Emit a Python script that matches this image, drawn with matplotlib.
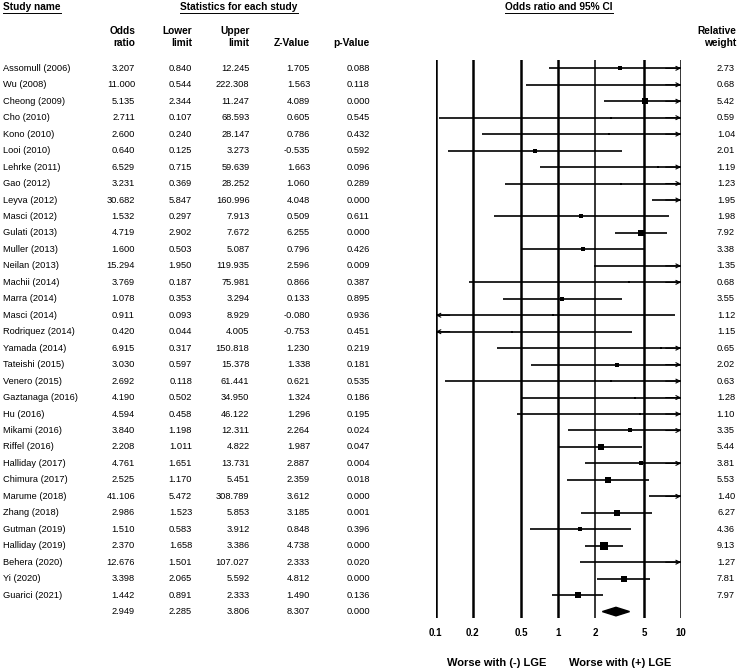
import numpy as np
import matplotlib
matplotlib.use("Agg")
import matplotlib.pyplot as plt
from matplotlib.transforms import blended_transform_factory
from matplotlib.patches import Polygon

plt.rcParams['font.family'] = ['Liberation Sans', 'DejaVu Sans']

# ---- data ----
studies = ["Assomull (2006)", "Wu (2008)", "Cheong (2009)", "Cho (2010)", "Kono (2010)",
           "Looi (2010)", "Lehrke (2011)", "Gao (2012)", "Leyva (2012)", "Masci (2012)",
           "Gulati (2013)", "Muller (2013)", "Neilan (2013)", "Machii (2014)", "Marra (2014)",
           "Masci (2014)", "Rodriquez (2014)", "Yamada (2014)", "Tateishi (2015)", "Venero (2015)",
           "Gaztanaga (2016)", "Hu (2016)", "Mikami (2016)", "Riffel (2016)", "Halliday (2017)",
           "Chimura (2017)", "Marume (2018)", "Zhang (2018)", "Gutman (2019)", "Halliday (2019)",
           "Behera (2020)", "Yi (2020)", "Guarici (2021)"]
odds = [3.207, 11.000, 5.135, 2.711, 2.600, 0.640, 6.529, 3.231, 30.682, 1.532,
        4.719, 1.600, 15.294, 3.769, 1.078, 0.911, 0.420, 6.915, 3.030, 2.692,
        4.190, 4.594, 3.840, 2.208, 4.761, 2.525, 41.106, 2.986, 1.510, 2.370,
        12.676, 3.398, 1.442]
lower = [0.840, 0.544, 2.344, 0.107, 0.240, 0.125, 0.715, 0.369, 5.847, 0.297,
         2.902, 0.503, 1.950, 0.187, 0.353, 0.093, 0.044, 0.317, 0.597, 0.118,
         0.502, 0.458, 1.198, 1.011, 1.651, 1.170, 5.472, 1.523, 0.583, 1.658,
         1.501, 2.065, 0.891]
upper = [12.245, 222.308, 11.247, 68.593, 28.147, 3.273, 59.639, 28.252, 160.996, 7.913,
         7.672, 5.087, 119.935, 75.981, 3.294, 8.929, 4.005, 150.818, 15.378, 61.441,
         34.950, 46.122, 12.311, 4.822, 13.731, 5.451, 308.789, 5.853, 3.912, 3.386,
         107.027, 5.592, 2.333]
zval = [1.705, 1.563, 4.089, 0.605, 0.786, -0.535, 1.663, 1.060, 4.048, 0.509,
        6.255, 0.796, 2.596, 0.866, 0.133, -0.080, -0.753, 1.230, 1.338, 0.621,
        1.324, 1.296, 2.264, 1.987, 2.887, 2.359, 3.612, 3.185, 0.848, 4.738,
        2.333, 4.812, 1.490]
pval = [0.088, 0.118, 0.000, 0.545, 0.432, 0.592, 0.096, 0.289, 0.000, 0.611,
        0.000, 0.426, 0.009, 0.387, 0.895, 0.936, 0.451, 0.219, 0.181, 0.535,
        0.186, 0.195, 0.024, 0.047, 0.004, 0.018, 0.000, 0.001, 0.396, 0.000,
        0.020, 0.000, 0.136]
weight = [2.73, 0.68, 5.42, 0.59, 1.04, 2.01, 1.19, 1.23, 1.95, 1.98,
          7.92, 3.38, 1.35, 0.68, 3.55, 1.12, 1.15, 0.65, 2.02, 0.63,
          1.28, 1.10, 3.35, 5.44, 3.81, 5.53, 1.40, 6.27, 4.36, 9.13,
          1.27, 7.81, 7.97]
pooled = [2.949, 2.285, 3.806, 8.307, 0.000]
ticks = [0.1, 0.2, 0.5, 1, 2, 5, 10]
tick_labels = ["0.1", "0.2", "0.5", "1", "2", "5", "10"]

W, H = 738, 671
fig = plt.figure(figsize=(W / 100, H / 100), dpi=100)

# forest panel placed in pixel terms
x0, x1, y0, y1 = 435.7, 681.0, 60.0, 618.0
ax = fig.add_axes([x0 / W, 1 - y1 / H, (x1 - x0) / W, (y1 - y0) / H])
ax.set_xscale("log")
ax.set_xlim(0.1, 10)
n = len(studies)
ax.set_ylim(33.39, -0.504)
ax.axis("off")

for t in ticks:
    lw = 1.1 if t in (2, 10) else 1.8
    ax.axvline(t, color="black", lw=lw, zorder=1)

for i in range(n):
    lo = max(lower[i], 0.1)
    hi = min(upper[i], 10)
    ax.plot([lo, hi], [i, i], color="black", lw=1.2, zorder=2, solid_capstyle="butt")
    if upper[i] > 10:
        ax.annotate("", xy=(10, i), xytext=(7.5, i),
                    arrowprops=dict(arrowstyle="->", lw=0.8, color="black",
                                    mutation_scale=7, shrinkA=0, shrinkB=0))
    if lower[i] < 0.1:
        ax.annotate("", xy=(0.1, i), xytext=(0.13, i),
                    arrowprops=dict(arrowstyle="->", lw=0.8, color="black",
                                    mutation_scale=7, shrinkA=0, shrinkB=0))
    if odds[i] <= 10:
        side_pt = 2.1 * weight[i] ** 0.575 / 1.389
        ax.scatter([odds[i]], [i], marker="s", s=side_pt ** 2, color="black",
                   linewidths=0, zorder=3)

# pooled diamond
d = 0.26
ax.add_patch(Polygon([(pooled[1], n), (pooled[0], n - d), (pooled[2], n), (pooled[0], n + d)],
                     closed=True, color="black", zorder=3))

for t, lab in zip(ticks, tick_labels):
    ax.text(t, -0.027, lab, transform=ax.get_xaxis_transform(), ha="center", va="center",
            fontsize=7, fontweight="bold")

# ---- table text ----
fs = 6.7
hfs = 7.3
tr = blended_transform_factory(fig.transFigure, ax.transData)

def fx(px):
    return px / W

def fy(py):
    return 1 - py / H

for i in range(n):
    fig.text(fx(3), i, studies[i], transform=tr, ha="left", va="center", fontsize=fs)
    fig.text(fx(135), i, f"{odds[i]:.3f}", transform=tr, ha="right", va="center", fontsize=fs)
    fig.text(fx(192), i, f"{lower[i]:.3f}", transform=tr, ha="right", va="center", fontsize=fs)
    fig.text(fx(249.5), i, f"{upper[i]:.3f}", transform=tr, ha="right", va="center", fontsize=fs)
    fig.text(fx(310), i, f"{zval[i]:.3f}", transform=tr, ha="right", va="center", fontsize=fs)
    fig.text(fx(370), i, f"{pval[i]:.3f}", transform=tr, ha="right", va="center", fontsize=fs)
    fig.text(fx(735), i, f"{weight[i]:.2f}", transform=tr, ha="right", va="center", fontsize=fs)

for px, v in zip([135, 192, 249.5, 310, 370], pooled):
    fig.text(fx(px), n, f"{v:.3f}", transform=tr, ha="right", va="center", fontsize=fs)

# headers
def underline_text(x, y, s, ha):
    t = fig.text(fx(x), fy(y), s, ha=ha, va="center", fontsize=hfs, fontweight="bold")
    fig.canvas.draw()
    bb = t.get_window_extent()
    fig.add_artist(plt.Line2D([bb.x0 / W, bb.x1 / W], [fy(y + 6), fy(y + 6)],
                              color="black", lw=0.7, transform=fig.transFigure))

underline_text(3, 7, "Study name", "left")
underline_text(239, 7, "Statistics for each study", "center")
underline_text(559, 7, "Odds ratio and 95% CI", "center")

heads = [(135, "Odds", "ratio"), (192, "Lower", "limit"), (249.5, "Upper", "limit"),
         (310, "", "Z-Value"), (370, "", "p-Value"), (736, "Relative", "weight")]
for px, a, b in heads:
    if a:
        fig.text(fx(px), fy(31.5), a, ha="right", va="center", fontsize=hfs, fontweight="bold")
    fig.text(fx(px), fy(43), b, ha="right", va="center", fontsize=hfs, fontweight="bold")

fig.text(fx(497), fy(663), "Worse with (-) LGE", ha="center", va="center", fontsize=8, fontweight="bold")
fig.text(fx(620), fy(663), "Worse with (+) LGE", ha="center", va="center", fontsize=8, fontweight="bold")

fig.savefig("out.png", dpi=100, facecolor="white")
